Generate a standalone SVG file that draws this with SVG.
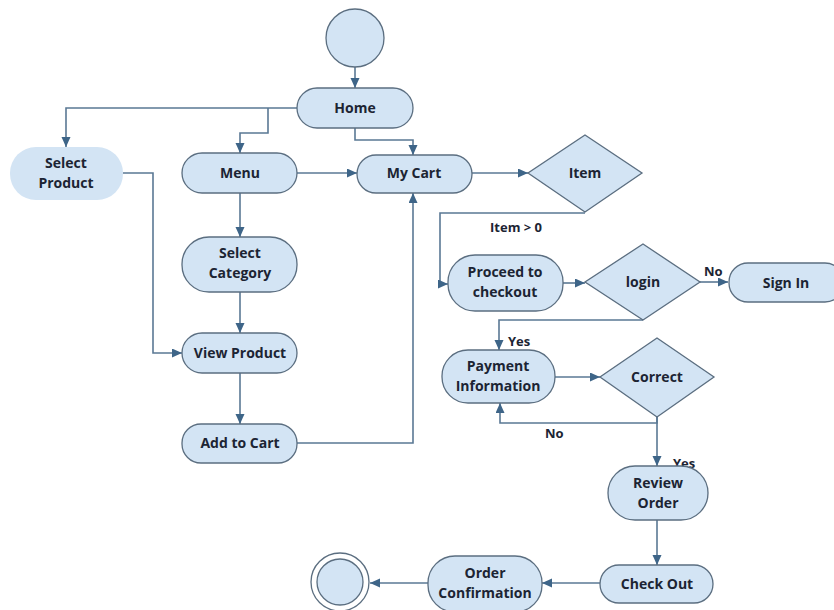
<svg xmlns="http://www.w3.org/2000/svg" width="834" height="610" viewBox="0 0 834 610">
<defs>
<marker id="arr" markerUnits="userSpaceOnUse" markerWidth="11" markerHeight="10" refX="10" refY="4.5" orient="auto">
<path d="M0,0 L10,4.5 L0,9 z" fill="#3e6588"/>
</marker>
<style>
.n{fill:#d3e4f4;stroke:#5b6e80;stroke-width:1.3}
.np{fill:#d3e4f4;stroke:none}
.t{font-family:"Open Sans","DejaVu Sans",sans-serif;font-weight:bold;font-size:14px;fill:#1c2433;text-anchor:middle}
.l{font-family:"Open Sans","DejaVu Sans",sans-serif;font-weight:bold;font-size:13px;fill:#1c2433}
.c{fill:none;stroke:#5a7894;stroke-width:1.6;marker-end:url(#arr)}
</style>
</defs>
<rect width="834" height="610" fill="#ffffff"/>
<g id="connectors">
<path class="c" d="M355,67 V88"/>
<path class="c" d="M297,108 H66 V147"/>
<path class="c" d="M268,108 V133 H240 V153"/>
<path class="c" d="M355,128 V140 H413 V155"/>
<path class="c" d="M297,173 H357"/>
<path class="c" d="M240,193 V237"/>
<path class="c" d="M240,292 V333"/>
<path class="c" d="M240,373 V424"/>
<path class="c" d="M123,173 H153 V353 H182"/>
<path class="c" d="M297,443 H413 V193"/>
<path class="c" d="M472,173 H528"/>
<path class="c" d="M585,213 H440 V284 H448"/>
<path class="c" d="M563,283 H585"/>
<path class="c" d="M700,282 H728"/>
<path class="c" d="M643,320 H499 V350"/>
<path class="c" d="M555,377 H600"/>
<path class="c" d="M657,417 V423 H500 V403"/>
<path class="c" d="M657,417 V466"/>
<path class="c" d="M657,520 V565"/>
<path class="c" d="M600,583 H542"/>
<path class="c" d="M428,583 H370"/>
</g>
<g id="labels">
<text class="l" x="490" y="232">Item &gt; 0</text>
<text class="l" x="704" y="276">No</text>
<text class="l" x="508" y="346">Yes</text>
<text class="l" x="545" y="438">No</text>
<text class="l" x="673" y="468">Yes</text>
</g>
<g id="start"><circle class="n" cx="355" cy="38" r="29"/></g>
<g id="home"><rect class="n" x="297" y="88" width="116" height="40" rx="20"/><text class="t" x="355" y="113">Home</text></g>
<g id="select-product"><rect class="np" x="10" y="147" width="113" height="53" rx="26"/><text class="t" x="66" y="168">Select</text><text class="t" x="66" y="188">Product</text></g>
<g id="menu"><rect class="n" x="182" y="153" width="115" height="40" rx="20"/><text class="t" x="240" y="178">Menu</text></g>
<g id="my-cart"><rect class="n" x="357" y="155" width="115" height="38" rx="19"/><text class="t" x="414" y="178">My Cart</text></g>
<g id="item"><polygon class="n" points="585,135 642,173 585,212 528,173"/><text class="t" x="585" y="178">Item</text></g>
<g id="select-category"><rect class="n" x="182" y="237" width="115" height="55" rx="27"/><text class="t" x="240" y="258">Select</text><text class="t" x="240" y="278">Category</text></g>
<g id="view-product"><rect class="n" x="182" y="333" width="115" height="40" rx="20"/><text class="t" x="240" y="358">View Product</text></g>
<g id="add-to-cart"><rect class="n" x="182" y="424" width="115" height="39" rx="19"/><text class="t" x="240" y="448">Add to Cart</text></g>
<g id="proceed"><rect class="n" x="448" y="255" width="115" height="56" rx="27"/><text class="t" x="505" y="277">Proceed to</text><text class="t" x="505" y="297">checkout</text></g>
<g id="login"><polygon class="n" points="643,244 700,282 643,320 585,282"/><text class="t" x="643" y="287">login</text></g>
<g id="sign-in"><rect class="n" x="729" y="263" width="115" height="39" rx="19"/><text class="t" x="786" y="288">Sign In</text></g>
<g id="payment"><rect class="n" x="442" y="350" width="113" height="53" rx="26"/><text class="t" x="498" y="371">Payment</text><text class="t" x="498" y="391">Information</text></g>
<g id="correct"><polygon class="n" points="657,338 714,377 657,417 600,377"/><text class="t" x="657" y="382">Correct</text></g>
<g id="review-order"><rect class="n" x="608" y="466" width="100" height="54" rx="27"/><text class="t" x="658" y="488">Review</text><text class="t" x="658" y="508">Order</text></g>
<g id="check-out"><rect class="n" x="600" y="565" width="113" height="38" rx="19"/><text class="t" x="657" y="589">Check Out</text></g>
<g id="order-confirmation"><rect class="n" x="428" y="556" width="114" height="56" rx="27"/><text class="t" x="485" y="578">Order</text><text class="t" x="485" y="598">Confirmation</text></g>
<g id="end"><circle cx="340" cy="582" r="29" fill="#ffffff" stroke="#5b6e80" stroke-width="1.3"/><circle class="n" cx="340" cy="582" r="23"/></g>
</svg>
